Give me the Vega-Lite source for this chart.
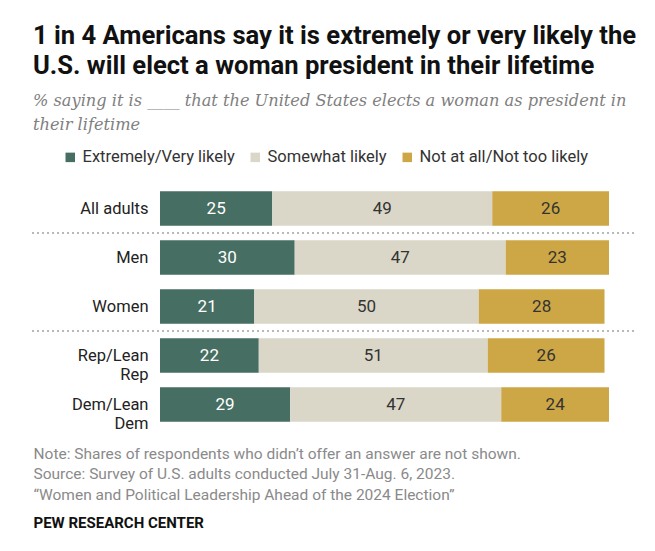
{
  "$schema": "https://vega.github.io/schema/vega-lite/v6.json",
  "width": 449,
  "height": 245,
  "autosize": {"type": "none"},
  "padding": {"left": 160, "top": 184, "right": 46, "bottom": 122},
  "background": "white",
  "config": {"view": {"stroke": null}, "font": "Roboto"},
  "title": {
    "text": ["1 in 4 Americans say it is extremely or very likely the", "U.S. will elect a woman president in their lifetime"],
    "subtitle": ["% saying it is ____ that the United States elects a woman as president in", "their lifetime"],
    "anchor": "start",
    "frame": "group",
    "dx": -127,
    "offset": 16,
    "font": "Roboto",
    "fontSize": 25.6,
    "fontWeight": "bold",
    "color": "#111111",
    "lineHeight": 30,
    "subtitleFont": "DejaVu Serif",
    "subtitleFontStyle": "italic",
    "subtitleFontSize": 16.2,
    "subtitleColor": "#808080",
    "subtitleLineHeight": 24,
    "subtitlePadding": 13
  },
  "data": {
    "values": [
      {"group": "All adults", "cat": "Extremely/Very likely", "value": 25},
      {"group": "All adults", "cat": "Somewhat likely", "value": 49},
      {"group": "All adults", "cat": "Not at all/Not too likely", "value": 26},
      {"group": "Men", "cat": "Extremely/Very likely", "value": 30},
      {"group": "Men", "cat": "Somewhat likely", "value": 47},
      {"group": "Men", "cat": "Not at all/Not too likely", "value": 23},
      {"group": "Women", "cat": "Extremely/Very likely", "value": 21},
      {"group": "Women", "cat": "Somewhat likely", "value": 50},
      {"group": "Women", "cat": "Not at all/Not too likely", "value": 28},
      {"group": "Rep/Lean Rep", "cat": "Extremely/Very likely", "value": 22},
      {"group": "Rep/Lean Rep", "cat": "Somewhat likely", "value": 51},
      {"group": "Rep/Lean Rep", "cat": "Not at all/Not too likely", "value": 26},
      {"group": "Dem/Lean Dem", "cat": "Extremely/Very likely", "value": 29},
      {"group": "Dem/Lean Dem", "cat": "Somewhat likely", "value": 47},
      {"group": "Dem/Lean Dem", "cat": "Not at all/Not too likely", "value": 24}
    ]
  },
  "transform": [
    {"calculate": "indexof(['Extremely/Very likely','Somewhat likely','Not at all/Not too likely'], datum.cat)", "as": "idx"},
    {"stack": "value", "groupby": ["group"], "sort": [{"field": "idx", "order": "ascending"}], "as": ["x0", "x1"]},
    {"calculate": "(datum.x0 + datum.x1) / 2", "as": "mid"}
  ],
  "encoding": {
    "y": {
      "field": "group",
      "type": "nominal",
      "sort": null,
      "scale": {"domain": ["All adults", "Men", "Women", "Rep/Lean Rep", "Dem/Lean Dem"], "paddingInner": 0.3, "paddingOuter": 0.15},
      "axis": {
        "title": "PEW RESEARCH CENTER",
        "titleAngle": 0,
        "titleAlign": "left",
        "titleBaseline": "alphabetic",
        "titleX": -127,
        "titleY": 343,
        "titleFont": "Roboto",
        "titleFontSize": 15,
        "titleFontWeight": "bold",
        "titleColor": "#111111",
        "domain": false,
        "ticks": false,
        "grid": false,
        "labelPadding": 12,
        "labelFontSize": 16.5,
        "labelColor": "#222222",
        "labelLineHeight": 19,
        "labelExpr": "datum.label == 'Rep/Lean Rep' ? ['Rep/Lean', 'Rep'] : datum.label == 'Dem/Lean Dem' ? ['Dem/Lean', 'Dem'] : datum.label"
      }
    }
  },
  "layer": [
    {
      "mark": {"type": "bar"},
      "encoding": {
        "x": {
          "field": "x0",
          "type": "quantitative",
          "scale": {"domain": [0, 100], "nice": false},
          "axis": {
            "title": ["Note: Shares of respondents who didn’t offer an answer are not shown.", "Source: Survey of U.S. adults conducted July 31-Aug. 6, 2023.", "“Women and Political Leadership Ahead of the 2024 Election”"],
            "titleAnchor": "start",
            "titleAlign": "left",
            "titleBaseline": "alphabetic",
            "titleX": -127,
            "titleY": 29,
            "titleFont": "Roboto",
            "titleFontSize": 15.5,
            "titleFontWeight": "normal",
            "titleColor": "#8a8a8a",
            "titleLineHeight": 20.5,
            "labels": false,
            "ticks": false,
            "domain": false,
            "grid": false
          }
        },
        "x2": {"field": "x1"},
        "color": {
          "field": "cat",
          "type": "nominal",
          "scale": {
            "domain": ["Extremely/Very likely", "Somewhat likely", "Not at all/Not too likely"],
            "range": ["#466e62", "#dad7c8", "#cda745"]
          },
          "legend": {
            "title": null,
            "orient": "none",
            "legendX": -98,
            "legendY": -35,
            "direction": "horizontal",
            "symbolType": "square",
            "symbolSize": 90,
            "symbolStrokeWidth": 0,
            "symbolOpacity": 1,
            "labelFontSize": 16.5,
            "labelLimit": 400,
            "labelColor": "#333333",
            "labelOffset": 4,
            "columnPadding": 12
          }
        }
      }
    },
    {
      "mark": {"type": "text", "fontSize": 17},
      "encoding": {
        "x": {"field": "mid", "type": "quantitative"},
        "text": {"field": "value", "type": "quantitative"},
        "color": {
          "condition": {"test": "datum.cat == 'Extremely/Very likely'", "value": "#ffffff"},
          "value": "#333333"
        }
      }
    },
    {
      "data": {"values": [{"between": "All adults"}, {"between": "Women"}]},
      "mark": {"type": "rule", "strokeDash": [2, 3], "strokeWidth": 2, "color": "#b8b8b8", "yOffset": 24.5},
      "encoding": {
        "x": {"datum": -28.5},
        "x2": {"datum": 105.8},
        "y": {"field": "between", "type": "nominal"}
      }
    }
  ]
}
